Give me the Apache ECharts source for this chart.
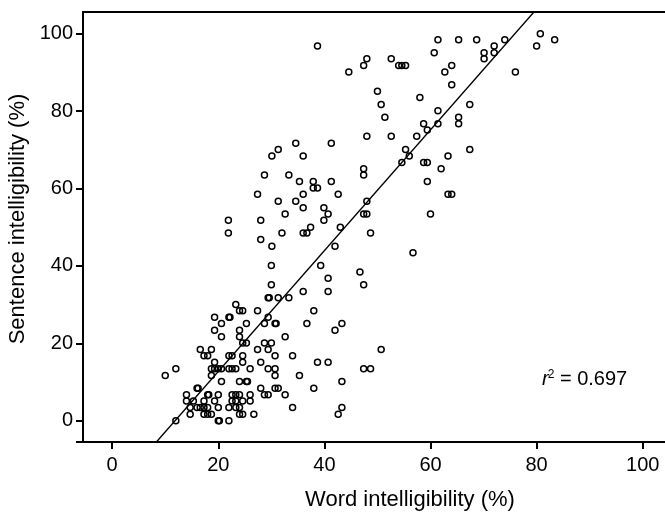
<!DOCTYPE html>
<html>
<head>
<meta charset="utf-8">
<script src="https://cdn.jsdelivr.net/npm/echarts@6/dist/echarts.min.js"></script>
<style>
  html, body { margin: 0; padding: 0; background: #fff; }
  #chart { width: 665px; height: 515px; }
</style>
</head>
<body>
<div id="chart"></div>
<script>
// Word vs. sentence intelligibility (%) per listener/talker pair
const wordIntel = [
  38.7, 34.6, 41.3, 31.3, 30.1, 36.0, 28.7, 33.3, 35.3, 37.9, 41.3, 37.9, 38.7, 27.4, 36.0, 42.6, 31.3, 34.6, 36.0, 39.9,
  32.6, 40.7, 39.9, 21.9, 28.0, 21.9, 32.0, 36.0, 36.7, 37.4, 43.0, 28.0, 30.1, 42.0,
  61.4, 65.3, 68.7, 74.0, 80.7, 83.4, 80.0, 72.0, 70.1, 72.0, 60.7, 70.1, 48.0, 52.6, 47.4, 54.0, 54.6, 55.3, 64.0, 44.6,
  62.7, 76.0, 64.0, 50.0, 58.0, 50.7, 67.4, 61.4, 51.4, 65.3, 58.7, 61.4, 65.3, 59.4, 48.0, 52.6, 57.4, 55.3, 67.4, 56.0,
  63.3, 54.6, 58.7, 59.4, 62.0, 47.4, 47.4, 59.4, 63.3, 64.0, 48.0, 47.4, 48.0, 60.0, 48.7, 56.7,
  30.0, 39.3, 40.7, 30.0, 40.7, 36.0, 29.4, 29.6, 31.3, 33.3, 23.3, 24.0, 24.6, 27.4, 38.0, 22.0, 22.2, 19.3, 29.4, 20.6,
  25.3, 28.7, 30.7, 30.9, 36.7, 19.3, 24.0, 42.0, 20.6, 24.0, 32.6, 24.6, 25.3, 28.7, 30.0, 16.6, 18.7, 27.4, 29.4, 17.3,
  18.0, 22.0, 22.6, 24.6, 30.7, 34.0, 19.3, 24.6, 28.0, 38.7, 40.7, 12.0, 18.7, 19.3, 20.0, 20.6, 22.0, 22.6, 23.3, 26.0,
  29.4, 30.7, 10.0, 18.7, 30.7, 35.3, 20.6, 24.0, 25.3, 25.5, 16.0, 16.2, 28.0, 30.7, 31.3, 38.0, 14.0, 18.0, 18.2, 20.0,
  22.6, 23.3, 24.0, 26.0, 28.7, 29.4, 32.6, 14.0, 15.3, 17.3, 19.3, 22.6, 23.3, 24.6, 26.0, 14.7, 16.0, 16.6, 17.3, 18.0,
  20.0, 22.0, 23.3, 24.0, 34.0, 14.7, 17.3, 18.0, 18.7, 24.0, 24.6, 26.7, 42.6, 12.0, 20.0, 20.2, 22.0,
  46.7, 47.4, 43.3, 50.7, 47.4, 48.7, 43.3, 43.3
];
const sentenceIntel = [
  96.8, 71.7, 71.7, 70.1, 68.4, 68.4, 63.5, 63.5, 61.8, 61.8, 61.8, 60.1, 60.1, 58.5, 58.5, 58.5, 56.7, 56.7, 55.0, 55.0,
  53.4, 53.4, 51.8, 51.8, 51.8, 48.5, 48.5, 48.5, 48.5, 50.0, 50.0, 46.8, 45.1, 45.1,
  98.4, 98.4, 98.4, 98.4, 100.0, 98.4, 96.8, 96.8, 95.1, 95.1, 95.1, 93.5, 93.5, 93.5, 91.8, 91.8, 91.8, 91.8, 91.8, 90.1,
  90.1, 90.1, 86.8, 85.1, 83.5, 81.7, 81.7, 80.1, 78.4, 78.4, 76.7, 76.7, 76.7, 75.1, 73.5, 73.5, 73.5, 70.1, 70.1, 68.4,
  68.4, 66.7, 66.7, 66.7, 65.1, 65.1, 63.5, 61.8, 58.5, 58.5, 56.7, 53.4, 53.4, 53.4, 48.5, 43.4,
  40.1, 40.1, 36.8, 35.1, 33.4, 33.4, 31.8, 31.8, 31.8, 31.8, 30.0, 28.4, 28.4, 28.4, 28.4, 26.7, 26.7, 26.7, 26.7, 25.1,
  25.1, 25.1, 25.1, 25.1, 25.1, 23.4, 23.4, 23.4, 21.7, 21.7, 21.7, 20.1, 20.1, 20.1, 20.1, 18.4, 18.4, 18.4, 18.4, 16.8,
  16.8, 16.8, 16.8, 16.8, 16.8, 16.8, 15.1, 15.1, 15.1, 15.1, 15.1, 13.4, 13.4, 13.4, 13.4, 13.4, 13.4, 13.4, 13.4, 13.4,
  13.4, 13.4, 11.7, 11.7, 11.7, 11.7, 10.1, 10.1, 10.1, 10.1, 8.4, 8.4, 8.4, 8.4, 8.4, 8.4, 6.7, 6.7, 6.7, 6.7,
  6.7, 6.7, 6.7, 6.7, 6.7, 6.7, 6.7, 5.1, 5.1, 5.1, 5.1, 5.1, 5.1, 5.1, 5.1, 3.4, 3.4, 3.4, 3.4, 3.4,
  3.4, 3.4, 3.4, 3.4, 3.4, 1.7, 1.7, 1.7, 1.7, 1.7, 1.7, 1.7, 1.7, 0.0, 0.0, 0.0, 0.0,
  38.4, 35.1, 25.1, 18.4, 13.4, 13.4, 10.1, 3.4
];

const xTicks = [0, 20, 40, 60, 80, 100];
const yTicks = [0, 20, 40, 60, 80, 100];
const xRange = [-5.5, 104.2];
const yRange = [-5.5, 105.6];

// Least-squares fit line
const fitSlope = 1.561;
const fitIntercept = -18.5;
const fitSpan = [8, 80];
const rSquared = '0.697';

const points = wordIntel.map((x, i) => [x, sentenceIntel[i]]);
const fitLine = fitSpan.map(x => [x, fitSlope * x + fitIntercept]);

const FONT = '"Liberation Sans", Arial, sans-serif';

const chart = echarts.init(document.getElementById('chart'), null, { renderer: 'canvas' });
chart.setOption({
  animation: false,
  backgroundColor: '#fff',
  grid: { left: 83, top: 12, right: 0, bottom: 73, containLabel: false, outerBoundsMode: 'none' },
  xAxis: [{
    type: 'value',
    min: xRange[0], max: xRange[1],
    name: 'Word intelligibility (%)',
    nameLocation: 'middle',
    nameGap: 47,
    // title sits a little right of the visible axis centre
    nameTextStyle: { fontFamily: FONT, fontSize: 22, color: '#000', padding: [0, 0, 0, 72] },
    axisLine: { show: true, onZero: false, lineStyle: { color: '#000', width: 2 } },
    axisTick: { show: true, length: 7, customValues: xTicks, lineStyle: { color: '#000', width: 2 } },
    axisLabel: { customValues: xTicks, margin: 13, fontFamily: FONT, fontSize: 20, color: '#000' },
    splitLine: { show: false }
  }, {
    type: 'value',
    position: 'top',
    min: xRange[0], max: xRange[1],
    axisLine: { show: true, onZero: false, lineStyle: { color: '#000', width: 2 } },
    axisTick: { show: false },
    axisLabel: { show: false },
    splitLine: { show: false }
  }],
  yAxis: {
    type: 'value',
    min: yRange[0], max: yRange[1],
    name: 'Sentence intelligibility (%)',
    nameLocation: 'middle',
    nameGap: 50,
    nameTextStyle: { fontFamily: FONT, fontSize: 22, color: '#000', padding: [0, 0, 0, 16] },
    axisLine: { show: true, onZero: false, lineStyle: { color: '#000', width: 2 } },
    axisTick: { show: true, length: 7, customValues: [yRange[0]].concat(yTicks), lineStyle: { color: '#000', width: 2 } },
    axisLabel: { customValues: yTicks, margin: 10, fontFamily: FONT, fontSize: 20, color: '#000' },
    splitLine: { show: false }
  },
  series: [{
    type: 'scatter',
    xAxisIndex: 0,
    data: points,
    symbol: 'circle',
    symbolSize: 6,
    itemStyle: { color: 'rgba(0,0,0,0)', borderColor: '#000', borderWidth: 1.5, opacity: 1 }
  }, {
    type: 'line',
    xAxisIndex: 0,
    data: fitLine,
    symbol: 'none',
    clip: true,
    lineStyle: { color: '#000', width: 1.4 }
  }],
  graphic: [{
    type: 'text',
    left: 542,
    top: 369,
    style: {
      text: '{r|r}{s|2}{t| = ' + rSquared + '}',
      rich: {
        r: { fontFamily: FONT, fontSize: 20, fontStyle: 'italic', fill: '#000', color: '#000' },
        s: { fontFamily: FONT, fontSize: 12, fill: '#000', color: '#000', verticalAlign: 'top', padding: [0, 0, 8, -1] },
        t: { fontFamily: FONT, fontSize: 20, fill: '#000', color: '#000' }
      }
    }
  }]
});
</script>
</body>
</html>
